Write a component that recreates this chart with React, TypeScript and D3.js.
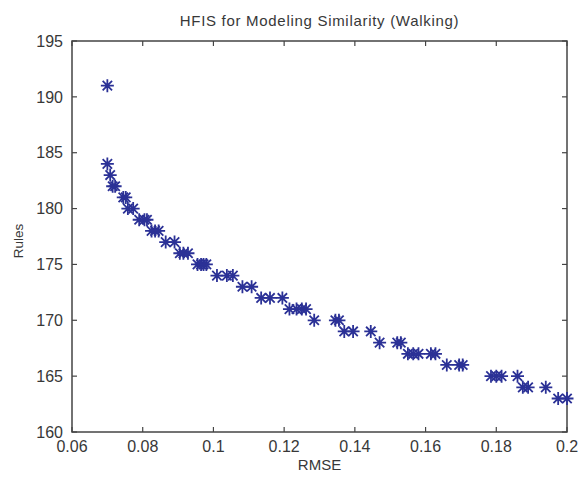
import React, { useEffect, useRef } from 'react';
import * as d3 from 'd3';

// RMSE vs number of rules
const rmse = [
  0.070, 0.070, 0.0708, 0.0715, 0.0722, 0.0745, 0.0752, 0.0758, 0.0773,
  0.0790, 0.0805, 0.0812, 0.0825, 0.0835, 0.0845, 0.0865, 0.0890,
  0.0905, 0.0915, 0.0928, 0.0955, 0.0965, 0.0972, 0.0980,
  0.1010, 0.1038, 0.1055, 0.1082, 0.1108, 0.1135, 0.1160, 0.1195,
  0.1215, 0.1235, 0.1250, 0.1262, 0.1285, 0.1345, 0.1355,
  0.1370, 0.1395, 0.1445, 0.1470, 0.1520, 0.1530,
  0.1550, 0.1565, 0.1580, 0.1615, 0.1628, 0.1660, 0.1695, 0.1705,
  0.1785, 0.1800, 0.1815, 0.1860, 0.1875, 0.1890, 0.1940, 0.1975, 0.2000,
];
const rules = [
  191, 184, 183, 182, 182, 181, 181, 180, 180,
  179, 179, 179, 178, 178, 178, 177, 177,
  176, 176, 176, 175, 175, 175, 175,
  174, 174, 174, 173, 173, 172, 172, 172,
  171, 171, 171, 171, 170, 170, 170,
  169, 169, 169, 168, 168, 168,
  167, 167, 167, 167, 167, 166, 166, 166,
  165, 165, 165, 165, 164, 164, 164, 163, 163,
];

const xTicks = [0.06, 0.08, 0.1, 0.12, 0.14, 0.16, 0.18, 0.2];
const yTicks = [160, 165, 170, 175, 180, 185, 190, 195];

const title = 'HFIS for Modeling Similarity (Walking)';
const xLabel = 'RMSE';
const yLabel = 'Rules';

const App: React.FC = () => {
  const svgRef = useRef<SVGSVGElement>(null);

  useEffect(() => {
    document.body.style.margin = '0';
    const svg = d3.select(svgRef.current);
    svg.selectAll('*').remove();

    const W = 579, H = 478;
    const margin = { top: 41, right: 12, bottom: 46, left: 72 };
    const width = W - margin.left - margin.right;
    const height = H - margin.top - margin.bottom;
    const axisColor = '#444';
    const textColor = '#383838';
    const font = 'Liberation Sans, Arial, sans-serif';

    svg.attr('width', W).attr('height', H);
    svg.append('rect').attr('width', W).attr('height', H).attr('fill', '#fff');

    const g = svg.append('g').attr('transform', `translate(${margin.left},${margin.top})`);

    const x = d3.scaleLinear().domain([0.06, 0.2]).range([0, width]);
    const y = d3.scaleLinear().domain([160, 195]).range([height, 0]);

    // box
    g.append('rect')
      .attr('width', width)
      .attr('height', height)
      .attr('fill', 'none')
      .attr('stroke', axisColor)
      .attr('stroke-width', 1.5);

    const tickLen = 5;
    // x ticks (bottom and top, pointing inward)
    xTicks.forEach(t => {
      const px = x(t);
      g.append('line').attr('x1', px).attr('x2', px).attr('y1', height).attr('y2', height - tickLen)
        .attr('stroke', axisColor).attr('stroke-width', 1.2);
      g.append('line').attr('x1', px).attr('x2', px).attr('y1', 0).attr('y2', tickLen)
        .attr('stroke', axisColor).attr('stroke-width', 1.2);
      g.append('text')
        .attr('x', px)
        .attr('y', height + 20)
        .attr('text-anchor', 'middle')
        .attr('font-family', font)
        .attr('font-size', 16)
        .attr('fill', textColor)
        .text(d3.format('~g')(t));
    });

    // y ticks (left and right)
    yTicks.forEach(t => {
      const py = y(t);
      g.append('line').attr('x1', 0).attr('x2', tickLen).attr('y1', py).attr('y2', py)
        .attr('stroke', axisColor).attr('stroke-width', 1.2);
      g.append('line').attr('x1', width).attr('x2', width - tickLen).attr('y1', py).attr('y2', py)
        .attr('stroke', axisColor).attr('stroke-width', 1.2);
      g.append('text')
        .attr('x', -9)
        .attr('y', py)
        .attr('dy', '0.36em')
        .attr('text-anchor', 'end')
        .attr('font-family', font)
        .attr('font-size', 16)
        .attr('fill', textColor)
        .text(t);
    });

    // labels
    svg.append('text')
      .attr('x', margin.left + width / 2)
      .attr('y', 26)
      .attr('text-anchor', 'middle')
      .attr('font-family', font)
      .attr('font-size', 15)
      .attr('letter-spacing', 0.7)
      .attr('fill', textColor)
      .text(title);

    svg.append('text')
      .attr('x', margin.left + width / 2)
      .attr('y', 470)
      .attr('text-anchor', 'middle')
      .attr('font-family', font)
      .attr('font-size', 15)
      .attr('fill', textColor)
      .text(xLabel);

    svg.append('text')
      .attr('transform', `translate(23,241) rotate(-90)`)
      .attr('text-anchor', 'middle')
      .attr('font-family', font)
      .attr('font-size', 13.5)
      .attr('fill', textColor)
      .text(yLabel);

    // star markers
    const r = 6.5;
    const d = 4.7;
    const star = `M${-r},0L${r},0M0,${-r}L0,${r}M${-d},${-d}L${d},${d}M${-d},${d}L${d},${-d}`;
    g.selectAll('.pt')
      .data(rmse.map((v, i) => [v, rules[i]]))
      .enter().append('path')
      .attr('class', 'pt')
      .attr('d', star)
      .attr('transform', p => `translate(${x(p[0])},${y(p[1])})`)
      .attr('fill', 'none')
      .attr('stroke', '#2b3196')
      .attr('stroke-width', 1.8);
  }, []);

  return <svg ref={svgRef}></svg>;
};

export default App;
